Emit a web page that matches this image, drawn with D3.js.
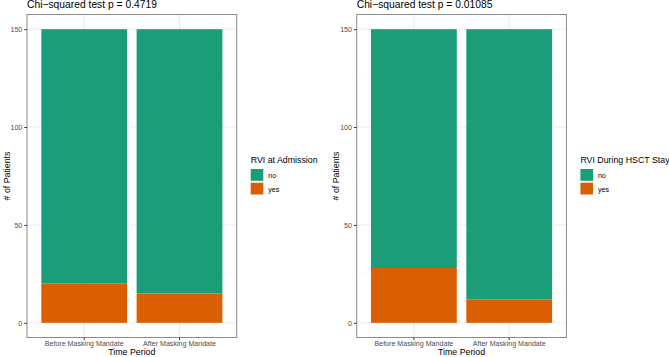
<!DOCTYPE html>
<html>
<head>
<meta charset="utf-8">
<script src="https://cdn.jsdelivr.net/npm/d3@7"></script>
<style>
  body { margin: 0; background: #fff; }
  svg { display: block; font-family: "Liberation Sans", Arial, sans-serif; }
</style>
</head>
<body>
<div id="chart"></div>
<script>
// data
const periods = ['Before Masking Mandate', 'After Masking Mandate'];
const groups = ['no', 'yes'];
const admissionNo = [130, 135];
const admissionYes = [20, 15];
const stayNo = [122, 138];
const stayYes = [28, 12];
const yTicks = [0, 50, 100, 150];
const yMinor = [25, 75, 125];
const pValues = ['0.4719', '0.01085'];
const legendTitles = ['RVI at Admission', 'RVI During HSCT Stay'];

const colors = { no: '#1B9E77', yes: '#D95F02' };

const width = 669, height = 357;
const panel = { left: 27, width: 209.7, top: 14.5, bottom: 337.5 };
const offsets = [0, 329.7];

const svg = d3.select('#chart').append('svg')
  .attr('width', width)
  .attr('height', height);

svg.append('rect').attr('width', width).attr('height', height).attr('fill', '#fff');

const facets = [
  { no: admissionNo, yes: admissionYes },
  { no: stayNo, yes: stayYes },
];

facets.forEach((f, k) => {
  const g = svg.append('g').attr('transform', `translate(${offsets[k]},0)`);

  const x = d3.scaleBand()
    .domain(periods)
    .range([panel.left, panel.left + panel.width])
    .paddingInner(0.1)
    .paddingOuter(0.15);

  const y = d3.scaleLinear()
    .domain([-7.5, 157.5])
    .range([panel.bottom, panel.top]);

  const rows = periods.map((p, i) => ({ period: p, no: f.no[i], yes: f.yes[i] }));
  // yes sits at the bottom, no stacked on top
  const series = d3.stack().keys(['yes', 'no'])(rows);

  // grid
  g.append('g').selectAll('line.minor')
    .data(yMinor).enter().append('line')
    .attr('x1', panel.left).attr('x2', panel.left + panel.width)
    .attr('y1', d => y(d)).attr('y2', d => y(d))
    .attr('stroke', '#F2F2F2').attr('stroke-width', 0.5);
  g.append('g').selectAll('line.major')
    .data(yTicks).enter().append('line')
    .attr('x1', panel.left).attr('x2', panel.left + panel.width)
    .attr('y1', d => y(d)).attr('y2', d => y(d))
    .attr('stroke', '#EBEBEB').attr('stroke-width', 1);
  g.append('g').selectAll('line.vmajor')
    .data(periods).enter().append('line')
    .attr('x1', d => x(d) + x.bandwidth() / 2).attr('x2', d => x(d) + x.bandwidth() / 2)
    .attr('y1', panel.top).attr('y2', panel.bottom)
    .attr('stroke', '#EBEBEB').attr('stroke-width', 1);

  // bars
  g.append('g').selectAll('g')
    .data(series).enter().append('g')
    .attr('fill', d => colors[d.key])
    .selectAll('rect')
    .data(d => d).enter().append('rect')
    .attr('x', d => x(d.data.period))
    .attr('width', x.bandwidth())
    .attr('y', d => y(d[1]))
    .attr('height', d => y(d[0]) - y(d[1]));

  // border
  g.append('rect')
    .attr('x', panel.left).attr('y', panel.top)
    .attr('width', panel.width).attr('height', panel.bottom - panel.top)
    .attr('fill', 'none').attr('stroke', '#8a8a8a').attr('stroke-width', 1);

  // axes
  const yAxis = g.append('g')
    .attr('transform', `translate(${panel.left},0)`)
    .call(d3.axisLeft(y).tickValues(yTicks).tickSize(2.7).tickPadding(2));
  yAxis.select('.domain').remove();
  yAxis.selectAll('line').attr('stroke', '#333');
  yAxis.selectAll('text').attr('fill', '#4D4D4D').style('font-size', '7.1px')
    .attr('font-family', null);

  const xAxis = g.append('g')
    .attr('transform', `translate(0,${panel.bottom})`)
    .call(d3.axisBottom(x).tickSize(2.7).tickPadding(0.3));
  xAxis.select('.domain').remove();
  xAxis.selectAll('line').attr('stroke', '#333');
  xAxis.selectAll('text').attr('fill', '#4D4D4D').style('font-size', '7.1px')
    .attr('font-family', null);

  // titles
  g.append('text')
    .attr('x', panel.left).attr('y', 8)
    .style('font-size', '10.3px')
    .text(`Chi\u2212squared test p = ${pValues[k]}`);

  g.append('text')
    .attr('x', panel.left + panel.width / 2).attr('y', 355.3)
    .attr('text-anchor', 'middle')
    .style('font-size', '8.8px')
    .text('Time Period');

  g.append('text')
    .attr('transform', `translate(${9.5},${(panel.top + panel.bottom) / 2}) rotate(-90)`)
    .attr('text-anchor', 'middle')
    .style('font-size', '8.8px')
    .text('# of Patients');

  // legend
  const lg = g.append('g').attr('transform', 'translate(250.7,0)');
  lg.append('text').attr('x', 0).attr('y', 163)
    .style('font-size', '8.8px')
    .text(legendTitles[k]);
  groups.forEach((key, i) => {
    lg.append('rect')
      .attr('x', 0).attr('y', 169 + i * 13.7)
      .attr('width', 12.6).attr('height', 11.8)
      .attr('fill', colors[key]);
    lg.append('text')
      .attr('x', 17.5).attr('y', 178 + i * 13.7)
      .style('font-size', '7.1px')
      .text(key);
  });
});
</script>
</body>
</html>
